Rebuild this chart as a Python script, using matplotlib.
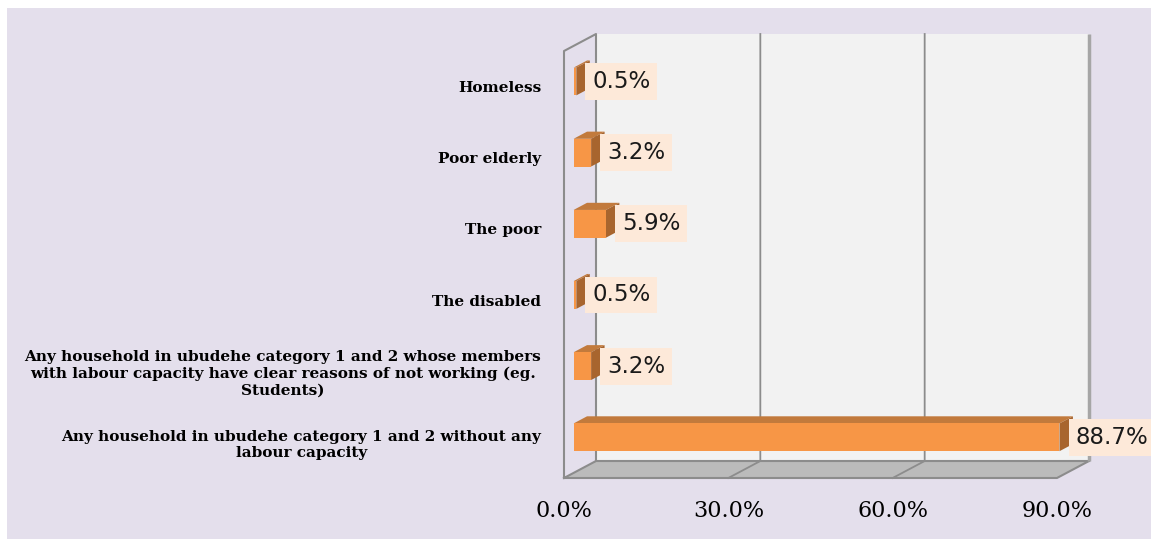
import matplotlib
matplotlib.use("Agg")
import matplotlib.pyplot as plt
from matplotlib.patches import Polygon, Rectangle

# ---- data -------------------------------------------------------------
categories = [
    "Homeless",
    "Poor elderly",
    "The poor",
    "The disabled",
    "Any household in ubudehe category 1 and 2 whose members\n"
    "with labour capacity have clear reasons of not working (eg.\n"
    "Students)",
    "Any household in ubudehe category 1 and 2 without any\n"
    "labour capacity",
]
shares = [0.5, 3.2, 5.9, 0.5, 3.2, 88.7]          # percent
x_ticks = [0, 30, 60, 90]
x_tick_labels = ["0.0%", "30.0%", "60.0%", "90.0%"]

# ---- style ------------------------------------------------------------
BG = "#E4DFEC"
WALL = "#F2F2F2"
FLOOR = "#BBBBBB"
EDGE = "#8C8C8C"
BAR_FRONT = "#F79646"
BAR_TOP = "#C27A3C"
BAR_SIDE = "#A8652E"
LABEL_BOX = "#FDE9D9"

W, H = 1151, 539
fig = plt.figure(figsize=(W / 100, H / 100), dpi=100)
fig.patch.set_facecolor("white")
fig.patches.append(Rectangle((7 / W, 0), 1, (H - 8) / H, transform=fig.transFigure,
                             facecolor=BG, edgecolor="none", zorder=-5))

# front plane of the 3-D box
left_px, right_px, top_px, bottom_px = 564, 1057, 51, 478
ax = fig.add_axes([left_px / W, 1 - bottom_px / H,
                   (right_px - left_px) / W, (bottom_px - top_px) / H])
ax.set_zorder(1)
ax.set_facecolor("none")
n = len(categories)
XMAX = 90
ax.set_xlim(0, XMAX)
ax.set_ylim(n, 0)
for s in ax.spines.values():
    s.set_visible(False)

# depth direction: full depth moves 32 px right and 17 px up
DX = 32 / (right_px - left_px) * XMAX
DY = 17 / ((bottom_px - top_px) / n)


def proj(x, y, z):
    return (x + z * DX, y - z * DY)


def face(pts, color, z, lw=0, ec="none"):
    ax.add_patch(Polygon([proj(*p) for p in pts], closed=True, facecolor=color,
                         edgecolor=ec, linewidth=lw, clip_on=False, zorder=z))


# walls and floor
face([(0, 0, 1), (XMAX, 0, 1), (XMAX, n, 1), (0, n, 1)], WALL, 1)
face([(0, 0, 0), (0, 0, 1), (0, n, 1), (0, n, 0)], BG, 1)
face([(0, n, 0), (XMAX, n, 0), (XMAX, n, 1), (0, n, 1)], FLOOR, 1)

# grid lines on back wall and floor
for t in x_ticks[1:-1]:
    xs, ys = zip(proj(t, 0, 1), proj(t, n, 1), proj(t, n, 0))
    ax.plot(xs, ys, color=EDGE, lw=1.3, clip_on=False, zorder=2)

# box outline
outline = [
    [(0, n, 0), (0, 0, 0), (0, 0, 1), (0, n, 1), (0, n, 0)],
    [(0, n, 0), (XMAX, n, 0), (XMAX, n, 1)],
    [(0, n, 1), (XMAX, n, 1)],
]
for seg in outline:
    xs, ys = zip(*[proj(*p) for p in seg])
    ax.plot(xs, ys, color=EDGE, lw=1.5, clip_on=False, zorder=2)
xs, ys = zip(proj(XMAX, 0, 1), proj(XMAX, n, 1))
ax.plot(xs, ys, color="#A6A6A6", lw=2.5, clip_on=False, zorder=2, solid_capstyle="butt")

# bars
Z0, Z1 = 0.30, 0.72
BH = 0.39
for i, v in enumerate(shares):
    c = i + 0.5
    y0, y1 = c - BH / 2, c + BH / 2
    face([(0, y0, Z0), (v, y0, Z0), (v, y0, Z1), (0, y0, Z1)], BAR_TOP, 3)
    face([(v, y0, Z0), (v, y1, Z0), (v, y1, Z1), (v, y0, Z1)], BAR_SIDE, 3)
    face([(0, y0, Z0), (v, y0, Z0), (v, y1, Z0), (0, y1, Z0)], BAR_FRONT, 4)
    ax.annotate(f"{v:.1f}%", xy=proj(v, c, Z0), xytext=(11.5, 0),
                textcoords="offset points", ha="left", va="center",
                fontsize=16.5, family="DejaVu Sans", color="#1a1a1a",
                bbox=dict(boxstyle="square,pad=0.3", facecolor=LABEL_BOX,
                          edgecolor="none"),
                annotation_clip=False, zorder=6)

# category labels and value axis
ax.set_yticks([i + 0.5 for i in range(n)])
ax.set_yticklabels(categories, fontsize=11, family="DejaVu Serif",
                   fontweight="bold", ha="right", multialignment="center",
                   linespacing=1.2)
ax.set_xticks(x_ticks)
ax.set_xticklabels(x_tick_labels, fontsize=16, family="DejaVu Serif")
ax.tick_params(axis="y", length=0, pad=16.5)
ax.tick_params(axis="x", length=0, pad=16)

fig.savefig("out.png", dpi=100, facecolor=fig.get_facecolor())
